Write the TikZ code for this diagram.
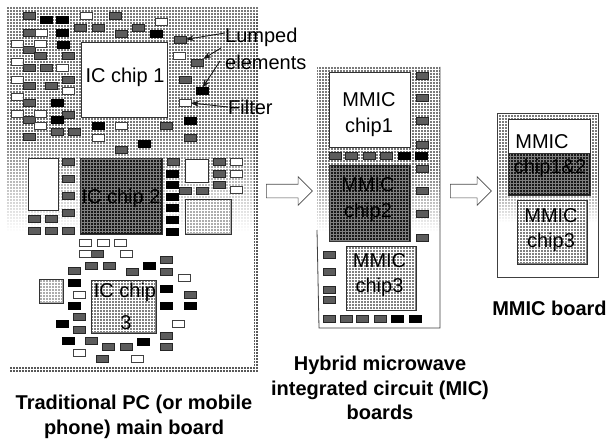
\documentclass[tikz,border=0pt]{standalone}
\usepackage{fontspec}
\setmainfont{Liberation Sans}
\usetikzlibrary{shapes.arrows,arrows.meta}
\definecolor{halftone}{gray}{0.48}
\definecolor{edgegrey}{gray}{0.35}
\definecolor{darkchip}{gray}{0.1}
\definecolor{midchip}{gray}{0.5}
\definecolor{lightchip}{gray}{0.68}
\definecolor{elgrey}{gray}{0.36}
\tikzset{
  elbase/.style={minimum width=12pt,minimum height=7pt,inner sep=0pt,outer sep=0pt,line width=.6pt},
  eg/.style={elbase,fill=elgrey,draw=black!85},
  ek/.style={elbase,fill=black,draw=black},
  ew/.style={elbase,fill=white,draw=black!75},
  chip/.style={draw=black!80,line width=.7pt,inner sep=0pt,outer sep=0pt,align=center,font=\fontsize{20}{25.5}\selectfont},
  chiptxt/.style={font=\fontsize{20}{25.5}\selectfont,align=center,inner sep=0pt},
  lbl/.style={font=\fontsize{20}{24}\selectfont,inner sep=0pt,anchor=west},
  captxt/.style={font=\fontsize{20}{24.5}\selectfont\bfseries,align=center,inner sep=0pt},
  lead/.style={draw=black!90,line width=.9pt,-{Stealth[length=8pt,width=6pt]}},
  blockarrow/.style={single arrow,draw=black!70,fill=white,line width=.6pt,inner sep=0pt,text height=13pt,text depth=0pt,text width=0pt,
    minimum width=28pt,single arrow head extend=7.5pt,single arrow head indent=0pt,shape border rotate=0},
  wire/.style={draw=black!75,line width=.6pt},
  darkscreen/.style={black!50,line width=.5pt},
  lightscreen/.style={white,line width=.85pt}
}
\newcommand\els[4]{\foreach \x/\y in {#4}{\node[#1,name=e\x x\y] at ({(\x+#2)/3},{-(\y+#3)/3}) {};}}
\newcommand\chipbox[6]{\node[chip,fill=#6,minimum width=#3pt-#1pt,minimum height=#4pt-#2pt,name=#5] at ({(#1+#3)/2},{-(#2+#4)/2}) {};}
% halftone screen: a 3pt grid laid over a filled area
\newcommand\screen[5]{\draw[#5,step=3pt] (#1,-#2) grid (#3,-#4);}
\begin{document}
\begin{tikzpicture}[x=1pt,y=1pt]
\useasboundingbox (0,0) rectangle (609,-441);
\fill[white] (0,0) rectangle (609,-441);
% --- left board
\fill[halftone] (6,-7) rectangle (258,-135);
\shade[top color=halftone,bottom color=white] (6,-135) rectangle (258,-232);
\fill[edgegrey] (254,-14) rectangle (259,-372);
\fill[edgegrey] (10,-367) rectangle (259,-373);
\screen{6}{7}{258}{232}{lightscreen}
\screen{254}{14}{259}{372}{lightscreen}
\screen{10}{367}{259}{373}{lightscreen}
\chipbox{81}{42}{167}{117}{chipA}{white}
\chipbox{80}{158}{162}{234}{chipB}{darkchip}
\screen{81}{159}{161}{233}{darkscreen}
\chipbox{91}{280}{156}{333}{chipC}{midchip}
\screen{92}{281}{155}{332}{lightscreen}
\chipbox{28}{158}{58}{210}{boxA}{white}
\chipbox{185}{159}{208}{182}{boxB}{white}
\chipbox{185}{199}{231}{234}{boxC}{lightchip}
\screen{186}{200}{230}{233}{lightscreen}
\chipbox{39}{279}{63}{303}{boxD}{lightchip}
\screen{40}{280}{62}{302}{lightscreen}
\node[chiptxt] (tA) at (125,-77) {IC chip 1};
\node[chiptxt] (tB) at (121,-198) {IC chip 2};
\node[chiptxt] (tC) at (125,-292) {IC chip};
\node[chiptxt] (tC2) at (126,-323) {3};
\els{eg}{0}{0}{88/46,347/46,241/82,295/82,416/82,365/100,88/97,540/118,88/150,122/168,206/168,592/187,88/203,138/203,555/238,88/256,155/256,206/238,88/309,206/343,88/358,172/394,224/396,500/378,88/409,572/412,364/449,206/484,206/535,206/586,520/484,658/484,658/520,658/555,555/571,606/571}
\els{ek}{0}{0}{138/60,188/60,468/100,188/97,190/133,608/273,172/309,172/358,295/378,572/362,432/431,518/520,518/555,518/590}
\els{ew}{0}{0}{260/46,485/65,123/97,51/131,122/131,538/168,51/185,188/203,51/238,206/272,51/291,555/309,51/340,122/340,122/376,364/378,295/412,708/484,708/520,708/570}
\els{eg}{0}{570}{206/68,103/86,153/86,103/122,153/122,206/122,291/191,274/227,328/227,397/244,500/210,500/244,222/243,572/314,239/381,239/418,500/436,500/471,274/453,325/471,379/471,308/505}
\els{ek}{0}{570}{518/52,518/88,518/124,449/227,222/279,500/296,222/347,500/348,572/348,187/400,205/452,431/454}
\els{ew}{0}{570}{257/157,309/157,362/157,257/191,380/191,552/262,239/313,535/400,239/487,413/506}
\draw[wire] (e51x131.east) -- (e88x150.west);
\draw[wire] (e51x185.east) -- (e88x203.west);
\draw[wire] (e51x238.east) -- (e88x256.west);
\draw[wire] (e51x291.east) -- (e88x309.west);
\draw[wire] (e51x340.east) -- (e88x358.west);
\draw[wire] (e88x358.east) -- (e122x340.west);
\draw[wire] (e88x358.east) -- (e122x376.west);
\node[lbl] (lumped) at (225,-37) {Lumped};
\node[lbl] (elements) at (225,-62) {elements};
\node[lbl] (filter) at (228,-107) {Filter};
\path[lead] ([yshift=4pt]lumped.west) -- (e540x118.east);
\path[lead] ([xshift=-4pt,yshift=-11pt]lumped.west) -- (e592x187.north east);
\path[lead] ([xshift=-5pt,yshift=1pt]elements.west) -- (e608x273.north);
\path[lead] (filter.west) -- (e555x309.east);
\node[blockarrow,minimum height=46pt] (arrowA) at (286,-191) {};
\node[blockarrow,minimum height=41pt] (arrowB) at (467.5,-191) {};
% --- middle board
\fill[halftone] (317,-67) rectangle (440,-170);
\shade[top color=halftone,bottom color=white] (317,-170) rectangle (440,-232);
\screen{317}{67}{440}{232}{lightscreen}
\draw[black!75,line width=.8pt] (440,-67) -- (440,-328) -- (319,-328) -- (317,-230);
\chipbox{329}{72}{410}{147}{mA}{white}
\chipbox{329}{165}{410}{241}{mB}{darkchip}
\screen{330}{166}{409}{240}{darkscreen}
\chipbox{346}{246}{416}{310}{mC}{midchip}
\screen{347}{247}{415}{309}{lightscreen}
\node[chiptxt,name=mAt] at (369,-114.5) {MMIC\\chip1};
\node[chiptxt,name=mBt] at (368,-199.5) {MMIC\\chip2};
\node[chiptxt,name=mCt] at (379.5,-275) {MMIC\\chip3};
\els{eg}{870}{150}{397/76,397/143,397/212,397/285,397/355,397/423,397/492,397/562,135/318,185/318,238/318,290/318,118/615,118/665,118/718,118/750,118/805,168/805,218/805,270/805}
\els{ek}{870}{150}{342/318,395/318,322/805,375/805}
% --- right board
\fill[halftone] (497,-113) rectangle (598,-180);
\shade[top color=halftone,bottom color=white] (497,-180) rectangle (598,-222);
\screen{497}{113}{598}{222}{lightscreen}
\draw[black!75,line width=.8pt] (497,-113) rectangle (598,-277);
\chipbox{508}{119}{590}{153}{rA}{white}
\chipbox{508}{153}{590}{195}{rB}{darkchip}
\screen{509}{154}{589}{194}{darkscreen}
\chipbox{517}{200}{587}{264}{rC}{midchip}
\screen{518}{201}{586}{263}{lightscreen}
\node[chiptxt,name=rAt] at (542,-142) {MMIC};
\node[chiptxt,name=rBt] at (550,-168) {chip1\&2};
\node[chiptxt,name=rCt] at (551,-230) {MMIC\\chip3};
% --- captions
\node[captxt] (capR) at (549.5,-308) {MMIC board};
\node[captxt] (capM) at (380,-388) {Hybrid microwave\\integrated circuit (MIC)\\boards};
\node[captxt] (capL) at (134,-417) {Traditional PC (or mobile\\phone) main board};
\end{tikzpicture}
\end{document}
